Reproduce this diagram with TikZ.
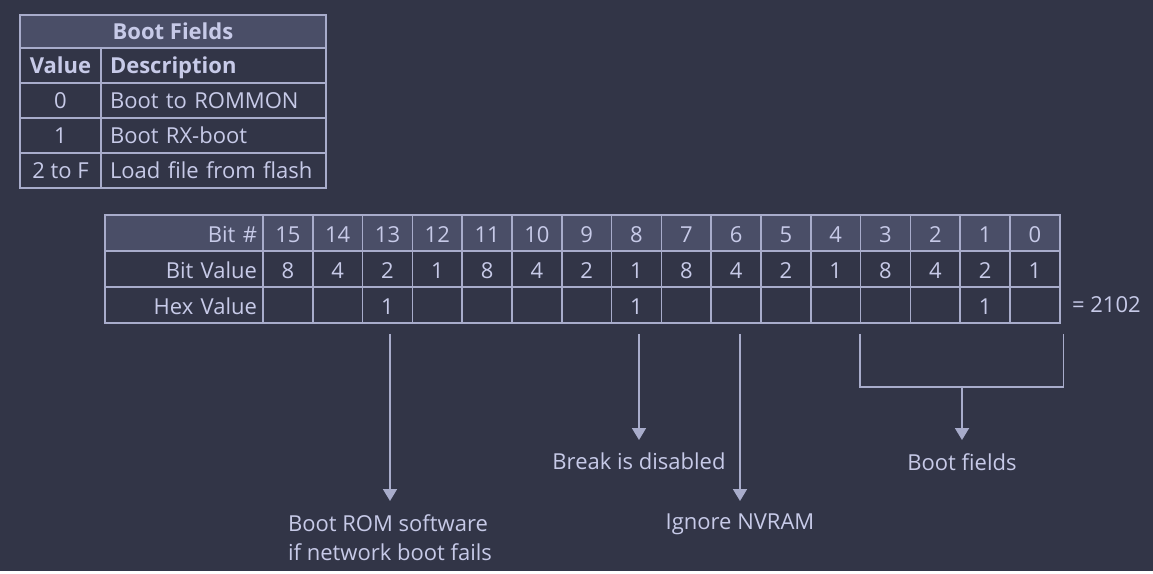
\documentclass[tikz,border=0pt]{standalone}
\usepackage{fontspec}
\setmainfont{Open Sans}
\usetikzlibrary{arrows.meta}
\definecolor{bg}{HTML}{323547}
\definecolor{ink}{HTML}{C7CAE8}
\definecolor{rule}{HTML}{A8ACCB}
\definecolor{headfill}{HTML}{4A4E67}
\tikzstyle{every node}=[text=ink, font=\fontsize{22}{29}\selectfont]
\tikzstyle{boldtxt}=[font=\fontsize{22}{29}\selectfont\bfseries]
\tikzstyle{cell}=[draw=rule, line width=1.5pt, minimum width=49.8pt, minimum height=36pt, inner sep=0pt, text height=18pt, text depth=0pt]
\tikzstyle{head}=[cell, fill=headfill]
\tikzstyle{lab}=[cell, text width=146pt, align=right, inner xsep=6pt]
\tikzstyle{valcell}=[cell, minimum width=81pt, minimum height=35pt, text height=16.5pt]
\tikzstyle{desccell}=[cell, minimum height=35pt, text width=207pt, align=left, inner xsep=9pt, text height=16.5pt]
\tikzstyle{note}=[anchor=north, inner xsep=2pt, inner ysep=13pt]
\tikzstyle{bracket}=[draw=rule, line width=1.8pt]
\tikzstyle{pointer}=[bracket, -{Triangle[width=14pt,length=12pt]}]

\begin{document}
\begin{tikzpicture}[x=1pt, y=-1pt]
    \fill[bg] (0,0) rectangle (1153,571);
% Boot fields table
    \node[head, boldtxt, minimum width=306pt, minimum height=33pt, text height=16pt] (title) at (173,31.5) {Boot Fields};
    \node[valcell, boldtxt] (val) at (60.5,65.5) {Value};
    \node[desccell, boldtxt] (desc) at (213.5,65.5) {Description};
    \node[valcell] (val0) at (60.5,100.5) {0};
    \node[desccell] (desc0) at (213.5,100.5) {Boot to ROMMON};
    \node[valcell] (val1) at (60.5,135.5) {1};
    \node[desccell] (desc1) at (213.5,135.5) {Boot RX-boot};
    \node[valcell] (val2) at (60.5,170.5) {2 to F};
    \node[desccell] (desc2) at (213.5,170.5) {Load file from flash};
% Bit numbers
    \node[head, lab] (bitno) at (184,233) {Bit \#};
    \node[head] (b15) at (287.9,233) {15};
    \node[head] (b14) at (337.7,233) {14};
    \node[head] (b13) at (387.5,233) {13};
    \node[head] (b12) at (437.3,233) {12};
    \node[head] (b11) at (487.1,233) {11};
    \node[head] (b10) at (536.9,233) {10};
    \node[head] (b9) at (586.7,233) {9};
    \node[head] (b8) at (636.5,233) {8};
    \node[head] (b7) at (686.3,233) {7};
    \node[head] (b6) at (736.1,233) {6};
    \node[head] (b5) at (785.9,233) {5};
    \node[head] (b4) at (835.7,233) {4};
    \node[head] (b3) at (885.5,233) {3};
    \node[head] (b2) at (935.3,233) {2};
    \node[head] (b1) at (985.1,233) {1};
    \node[head] (b0) at (1034.9,233) {0};
% Bit values
    \node[lab] (bitval) at (184,269) {Bit Value};
    \node[cell] (v15) at (287.9,269) {8};
    \node[cell] (v14) at (337.7,269) {4};
    \node[cell] (v13) at (387.5,269) {2};
    \node[cell] (v12) at (437.3,269) {1};
    \node[cell] (v11) at (487.1,269) {8};
    \node[cell] (v10) at (536.9,269) {4};
    \node[cell] (v9) at (586.7,269) {2};
    \node[cell] (v8) at (636.5,269) {1};
    \node[cell] (v7) at (686.3,269) {8};
    \node[cell] (v6) at (736.1,269) {4};
    \node[cell] (v5) at (785.9,269) {2};
    \node[cell] (v4) at (835.7,269) {1};
    \node[cell] (v3) at (885.5,269) {8};
    \node[cell] (v2) at (935.3,269) {4};
    \node[cell] (v1) at (985.1,269) {2};
    \node[cell] (v0) at (1034.9,269) {1};
% Hex values
    \node[lab] (hexval) at (184,305) {Hex Value};
    \node[cell] (h15) at (287.9,305) {};
    \node[cell] (h14) at (337.7,305) {};
    \node[cell] (h13) at (387.5,305) {1};
    \node[cell] (h12) at (437.3,305) {};
    \node[cell] (h11) at (487.1,305) {};
    \node[cell] (h10) at (536.9,305) {};
    \node[cell] (h9) at (586.7,305) {};
    \node[cell] (h8) at (636.5,305) {1};
    \node[cell] (h7) at (686.3,305) {};
    \node[cell] (h6) at (736.1,305) {};
    \node[cell] (h5) at (785.9,305) {};
    \node[cell] (h4) at (835.7,305) {};
    \node[cell] (h3) at (885.5,305) {};
    \node[cell] (h2) at (935.3,305) {};
    \node[cell] (h1) at (985.1,305) {1};
    \node[cell] (h0) at (1034.9,305) {};
    \node[anchor=west, xshift=8pt] (sum) at (h0.east) {= 2102};
% Meanings
    \node[note, align=left] (rom) at (390,501) {Boot ROM software\\if network boot fails};
    \node[note] (brk) at (639,440) {Break is disabled};
    \node[note] (nvram) at (740,501) {Ignore NVRAM};
    \node[note] (fields) at (962,440) {Boot fields};
    \coordinate (bend) at (962,387);
    \draw[pointer] ([yshift=-10pt]h13.south -| rom.north) -- (rom.north);
    \draw[pointer] ([yshift=-10pt]h8.south -| brk.north) -- (brk.north);
    \draw[pointer] ([yshift=-10pt]h6.south -| nvram.north) -- (nvram.north);
    \draw[bracket] ([yshift=-10pt]h3.south west) |- (bend) -| ([yshift=-10pt,xshift=3pt]h0.south east);
    \draw[pointer] (bend) -- (fields.north);
\end{tikzpicture}
\end{document}
